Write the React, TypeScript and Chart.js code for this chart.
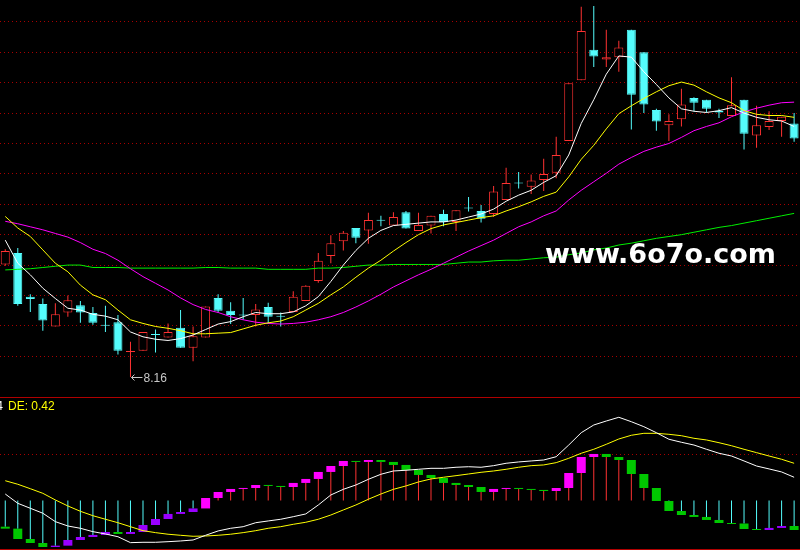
import React, { useEffect, useRef } from "react";
import { Chart, registerables } from "chart.js";
Chart.register(...registerables);

// ---------- price panel data (64 trading days) ----------
const openPrices = [10.01, 10.20, 9.48, 9.36, 8.99, 9.22, 9.34, 9.21, 9.01, 9.06, 8.57, 8.59, 8.86, 8.81, 8.97, 8.64, 8.81, 9.46, 9.25, 9.18, 9.18, 9.31, 9.16, 9.23, 9.41, 9.74, 10.15, 10.39, 10.61, 10.57, 10.74, 10.65, 10.87, 10.56, 10.65, 10.84, 10.71, 10.94, 10.89, 10.84, 11.07, 11.35, 11.29, 11.40, 11.52, 12.04, 13.04, 13.54, 13.38, 13.42, 13.87, 13.50, 12.55, 12.30, 12.40, 12.75, 12.72, 12.54, 12.45, 12.72, 12.13, 12.27, 12.37, 12.33];
const highPrices = [10.26, 10.28, 9.52, 9.45, 9.37, 9.50, 9.41, 9.31, 9.33, 9.18, 8.74, 8.90, 8.94, 9.04, 9.26, 8.99, 9.32, 9.52, 9.39, 9.46, 9.36, 9.38, 9.22, 9.57, 9.67, 10.20, 10.49, 10.56, 10.61, 10.86, 10.81, 10.87, 10.89, 10.86, 10.81, 10.91, 10.90, 11.12, 10.99, 11.30, 11.60, 11.53, 11.49, 11.75, 12.11, 12.99, 14.25, 14.26, 13.87, 13.69, 13.87, 13.50, 12.57, 12.48, 12.90, 12.76, 12.72, 12.57, 13.09, 12.72, 12.62, 12.53, 12.44, 12.50];
const lowPrices = [9.99, 9.33, 9.23, 8.92, 8.99, 9.15, 9.05, 9.02, 8.90, 8.53, 8.16, 8.59, 8.56, 8.81, 8.64, 8.42, 8.81, 9.22, 9.03, 9.10, 8.99, 9.03, 8.99, 9.23, 9.41, 9.71, 10.03, 10.24, 10.36, 10.35, 10.64, 10.65, 10.60, 10.56, 10.52, 10.64, 10.56, 10.88, 10.70, 10.79, 11.07, 11.26, 11.17, 11.22, 11.43, 12.04, 13.04, 13.26, 13.26, 13.18, 12.23, 12.50, 12.21, 12.04, 12.28, 12.53, 12.51, 12.42, 12.45, 11.90, 11.93, 12.22, 12.11, 12.03];
const closePrices = [10.23, 9.36, 9.44, 9.09, 9.19, 9.42, 9.22, 9.05, 9.00, 8.59, 8.58, 8.90, 8.85, 8.90, 8.64, 8.83, 9.32, 9.25, 9.18, 9.17, 9.27, 9.15, 9.15, 9.48, 9.66, 10.07, 10.36, 10.53, 10.45, 10.74, 10.73, 10.79, 10.60, 10.66, 10.81, 10.71, 10.90, 10.93, 10.76, 11.21, 11.35, 11.34, 11.39, 11.50, 11.81, 12.99, 13.85, 13.43, 13.42, 13.58, 12.80, 12.64, 12.36, 12.37, 12.64, 12.67, 12.57, 12.51, 12.63, 12.16, 12.30, 12.37, 12.44, 12.08];

const ma5Line = [10.41, 10.03, 9.84, 9.62, 9.45, 9.29, 9.26, 9.19, 9.16, 9.10, 8.90, 8.82, 8.78, 8.76, 8.79, 8.85, 8.94, 9.03, 9.07, 9.15, 9.22, 9.20, 9.20, 9.23, 9.33, 9.48, 9.73, 10.00, 10.24, 10.44, 10.57, 10.65, 10.67, 10.69, 10.71, 10.71, 10.74, 10.79, 10.84, 10.92, 11.05, 11.15, 11.23, 11.36, 11.47, 11.81, 12.33, 12.72, 13.14, 13.44, 13.42, 13.18, 12.97, 12.75, 12.57, 12.53, 12.51, 12.54, 12.59, 12.50, 12.43, 12.39, 12.37, 12.28];
const ma10Line = [10.80, 10.61, 10.47, 10.25, 10.03, 9.89, 9.67, 9.51, 9.43, 9.26, 9.10, 9.04, 8.99, 8.96, 8.92, 8.87, 8.87, 8.88, 8.89, 8.95, 9.01, 9.05, 9.08, 9.15, 9.26, 9.37, 9.51, 9.64, 9.80, 9.95, 10.08, 10.23, 10.37, 10.50, 10.60, 10.66, 10.70, 10.74, 10.78, 10.81, 10.89, 10.96, 11.04, 11.13, 11.20, 11.45, 11.74, 11.97, 12.24, 12.49, 12.62, 12.74, 12.85, 12.95, 13.01, 12.96, 12.85, 12.75, 12.67, 12.54, 12.48, 12.46, 12.46, 12.43];
const ma20Line = [10.72, 10.68, 10.63, 10.58, 10.52, 10.46, 10.37, 10.26, 10.19, 10.08, 9.94, 9.81, 9.70, 9.59, 9.46, 9.35, 9.27, 9.22, 9.15, 9.10, 9.06, 9.04, 9.03, 9.04, 9.06, 9.10, 9.15, 9.22, 9.31, 9.41, 9.52, 9.64, 9.74, 9.84, 9.93, 10.03, 10.13, 10.23, 10.32, 10.41, 10.52, 10.63, 10.71, 10.81, 10.89, 11.07, 11.23, 11.37, 11.51, 11.66, 11.77, 11.87, 11.94, 12.00, 12.10, 12.21, 12.28, 12.34, 12.44, 12.52, 12.58, 12.63, 12.67, 12.68];
const ma60Line = [9.92, 9.93, 9.94, 9.96, 9.98, 10.00, 10.00, 9.96, 9.96, 9.96, 9.95, 9.95, 9.95, 9.95, 9.95, 9.95, 9.96, 9.96, 9.95, 9.95, 9.95, 9.93, 9.93, 9.93, 9.93, 9.95, 9.95, 9.96, 9.98, 10.00, 10.00, 10.01, 10.01, 10.01, 10.01, 10.01, 10.03, 10.05, 10.05, 10.07, 10.08, 10.08, 10.10, 10.12, 10.13, 10.17, 10.20, 10.25, 10.28, 10.33, 10.36, 10.40, 10.44, 10.47, 10.50, 10.54, 10.58, 10.62, 10.65, 10.69, 10.73, 10.77, 10.81, 10.85];

const priceGridLevels = [8.5, 9.0, 9.5, 10.0, 10.5, 11.0, 11.5, 12.0, 12.5, 13.0, 13.5, 14.0];

// ---------- indicator panel data ----------
const difLine = [0.073, -0.032, -0.088, -0.144, -0.239, -0.288, -0.314, -0.352, -0.378, -0.409, -0.476, -0.472, -0.472, -0.465, -0.457, -0.446, -0.393, -0.344, -0.314, -0.296, -0.251, -0.231, -0.212, -0.183, -0.152, -0.051, 0.062, 0.126, 0.175, 0.239, 0.296, 0.333, 0.341, 0.352, 0.363, 0.363, 0.375, 0.381, 0.375, 0.393, 0.420, 0.435, 0.446, 0.457, 0.494, 0.626, 0.765, 0.852, 0.897, 0.939, 0.889, 0.833, 0.765, 0.691, 0.657, 0.626, 0.578, 0.533, 0.502, 0.446, 0.389, 0.356, 0.322, 0.262];
const deLine = [0.223, 0.183, 0.133, 0.081, 0.006, -0.062, -0.122, -0.172, -0.212, -0.251, -0.296, -0.341, -0.363, -0.381, -0.393, -0.404, -0.401, -0.393, -0.381, -0.363, -0.341, -0.314, -0.296, -0.269, -0.246, -0.212, -0.164, -0.107, -0.051, 0.014, 0.073, 0.126, 0.164, 0.209, 0.243, 0.262, 0.280, 0.299, 0.318, 0.333, 0.352, 0.375, 0.393, 0.401, 0.427, 0.476, 0.533, 0.578, 0.634, 0.694, 0.736, 0.758, 0.758, 0.747, 0.731, 0.702, 0.683, 0.652, 0.618, 0.578, 0.540, 0.502, 0.465, 0.42];
const histBefore = -0.296;
const histValues = [-0.318, -0.435, -0.480, -0.525, -0.510, -0.446, -0.412, -0.389, -0.356, -0.378, -0.356, -0.277, -0.209, -0.152, -0.130, -0.090, 0.028, 0.096, 0.130, 0.141, 0.175, 0.164, 0.152, 0.198, 0.243, 0.322, 0.389, 0.446, 0.435, 0.457, 0.435, 0.401, 0.344, 0.288, 0.254, 0.198, 0.175, 0.152, 0.096, 0.130, 0.141, 0.130, 0.119, 0.107, 0.141, 0.310, 0.491, 0.525, 0.491, 0.457, 0.299, 0.141, -0.006, -0.119, -0.164, -0.186, -0.220, -0.254, -0.260, -0.322, -0.333, -0.310, -0.288, -0.333];
const indicatorGridLevels = [0.52];
const deLabel = "DE: 0.42";

const RED = "#ff3232";
const CYAN = "#54fcfc";
const GRID = "#a80000";

const idx = openPrices.map((_, i) => i);
const xScaleOpts = { type: "linear", min: -0.42, max: 63.47, display: false, offset: false };

export default function App() {
  const topRef = useRef<HTMLCanvasElement | null>(null);
  const botRef = useRef<HTMLCanvasElement | null>(null);

  useEffect(() => {
    const up = (i: number) => closePrices[i] >= openPrices[i];
    const lineDs = (data: number[], color: string) => ({
      type: "line",
      data: data.map((v, i) => ({ x: i, y: v })),
      borderColor: color,
      borderWidth: 1,
      pointRadius: 0,
      tension: 0,
      fill: false,
    });

    const topPlugin = {
      id: "topDecor",
      afterDatasetsDraw(chart: any) {
        const { ctx, scales } = chart;
        ctx.save();
        // lowest low annotation
        let mi = 0;
        lowPrices.forEach((v, i) => { if (v < lowPrices[mi]) mi = i; });
        const px = scales.x.getPixelForValue(mi);
        const py = scales.y.getPixelForValue(lowPrices[mi]);
        ctx.strokeStyle = "#c8c8c8";
        ctx.fillStyle = "#c8c8c8";
        ctx.lineWidth = 1;
        ctx.beginPath();
        ctx.moveTo(px + 1, Math.round(py) + 0.5);
        ctx.lineTo(px + 12, Math.round(py) + 0.5);
        ctx.moveTo(px + 1, Math.round(py) + 0.5);
        ctx.lineTo(px + 4, Math.round(py) - 2.5);
        ctx.moveTo(px + 1, Math.round(py) + 0.5);
        ctx.lineTo(px + 4, Math.round(py) + 3.5);
        ctx.stroke();
        ctx.font = "12px 'Liberation Sans'";
        ctx.textBaseline = "middle";
        ctx.textAlign = "left";
        ctx.fillText(lowPrices[mi].toFixed(2), px + 13, py + 1.5);
        // watermark
        ctx.fillStyle = "#ffffff";
        ctx.font = "bold 27px 'DejaVu Sans'";
        ctx.textBaseline = "alphabetic";
        ctx.fillText("www.6o7o.com", 545, 263);
        ctx.restore();
      },
    };

    const top = new Chart(topRef.current as HTMLCanvasElement, {
      type: "bar",
      data: {
        datasets: [
          lineDs(ma5Line, "#ffffff"),
          lineDs(ma10Line, "#ffff00"),
          lineDs(ma20Line, "#ff00ff"),
          lineDs(ma60Line, "#00f000"),
          {
            type: "bar",
            data: idx.map((i) => ({ x: i, y: [openPrices[i], closePrices[i]] })),
            backgroundColor: idx.map((i) => (up(i) ? "#000000" : CYAN)),
            borderColor: idx.map((i) => (up(i) ? RED : CYAN)),
            borderWidth: 1,
            borderSkipped: false,
            barThickness: 9,
            minBarLength: 1,
            grouped: false,
            inflateAmount: 0,
          },
          {
            type: "bar",
            data: idx.map((i) => ({ x: i, y: [lowPrices[i], highPrices[i]] })),
            backgroundColor: idx.map((i) => (up(i) ? RED : CYAN)),
            borderWidth: 0,
            barThickness: 1,
            grouped: false,
            inflateAmount: 0,
          },
        ] as any,
      },
      options: {
        responsive: false,
        animation: false,
        events: [],
        layout: { padding: 0 },
        plugins: { legend: { display: false }, tooltip: { enabled: false } },
        scales: {
          x: xScaleOpts as any,
          y: {
            min: 7.83,
            max: 14.36,
            grid: { color: GRID, drawTicks: false, lineWidth: 1 },
            border: { display: false, dash: [1, 3] },
            ticks: { display: false },
            afterBuildTicks: (s: any) => { s.ticks = priceGridLevels.map((v) => ({ value: v })); },
          },
        },
      },
      plugins: [topPlugin],
    });

    const prevOf = (i: number) => (i === 0 ? histBefore : histValues[i - 1]);
    const stemEnd = (i: number) => {
      const a = prevOf(i), b = histValues[i];
      if (a * b <= 0) return 0;
      return Math.abs(a) < Math.abs(b) ? a : b;
    };
    const boxColor = (i: number) => {
      const a = prevOf(i), b = histValues[i];
      if (b >= 0) return b > a ? "#ff00ff" : "#00c800";
      return b < a ? "#00c800" : "#9900ff";
    };

    const botPlugin = {
      id: "botDecor",
      afterDraw(chart: any) {
        const { ctx, width } = chart;
        ctx.save();
        ctx.strokeStyle = "#b00000";
        ctx.lineWidth = 1;
        ctx.beginPath();
        ctx.moveTo(0, 0.5);
        ctx.lineTo(width, 0.5);
        ctx.moveTo(0, 152.5);
        ctx.lineTo(width, 152.5);
        ctx.stroke();
        ctx.font = "12px 'Liberation Sans'";
        ctx.textBaseline = "alphabetic";
        ctx.textAlign = "right";
        ctx.fillStyle = "#ffffff";
        ctx.fillText("4", 3, 13);
        ctx.textAlign = "left";
        ctx.fillStyle = "#ffff00";
        ctx.fillText(deLabel, 8, 13);
        ctx.restore();
      },
    };

    const bot = new Chart(botRef.current as HTMLCanvasElement, {
      type: "bar",
      data: {
        datasets: [
          lineDs(difLine, "#ffffff"),
          lineDs(deLine, "#ffff00"),
          {
            type: "bar",
            data: idx.map((i) => ({ x: i, y: [prevOf(i), histValues[i]] })),
            backgroundColor: idx.map((i) => boxColor(i)),
            borderWidth: 0,
            barThickness: 9,
            minBarLength: 1,
            grouped: false,
            inflateAmount: 0,
          },
          {
            type: "bar",
            data: idx.map((i) => ({ x: i, y: [0, stemEnd(i)] })),
            backgroundColor: idx.map((i) => (stemEnd(i) >= 0 ? RED : CYAN)),
            borderWidth: 0,
            barThickness: 1,
            grouped: false,
            inflateAmount: 0,
          },
        ] as any,
      },
      options: {
        responsive: false,
        animation: false,
        events: [],
        layout: { padding: 0 },
        plugins: { legend: { display: false }, tooltip: { enabled: false } },
        scales: {
          x: xScaleOpts as any,
          y: {
            min: -0.559,
            max: 1.168,
            grid: { color: GRID, drawTicks: false, lineWidth: 1 },
            border: { display: false, dash: [1, 3] },
            ticks: { display: false },
            afterBuildTicks: (s: any) => { s.ticks = indicatorGridLevels.map((v) => ({ value: v })); },
          },
        },
      },
      plugins: [botPlugin],
    });

    return () => {
      top.destroy();
      bot.destroy();
    };
  }, []);

  return (
    <div style={{ position: "absolute", left: 0, top: 0, width: 800, height: 550, background: "#000", overflow: "hidden" }}>
      <canvas ref={topRef} width={800} height={397} style={{ display: "block", width: 800, height: 397 }} />
      <canvas ref={botRef} width={800} height={153} style={{ display: "block", width: 800, height: 153 }} />
    </div>
  );
}
